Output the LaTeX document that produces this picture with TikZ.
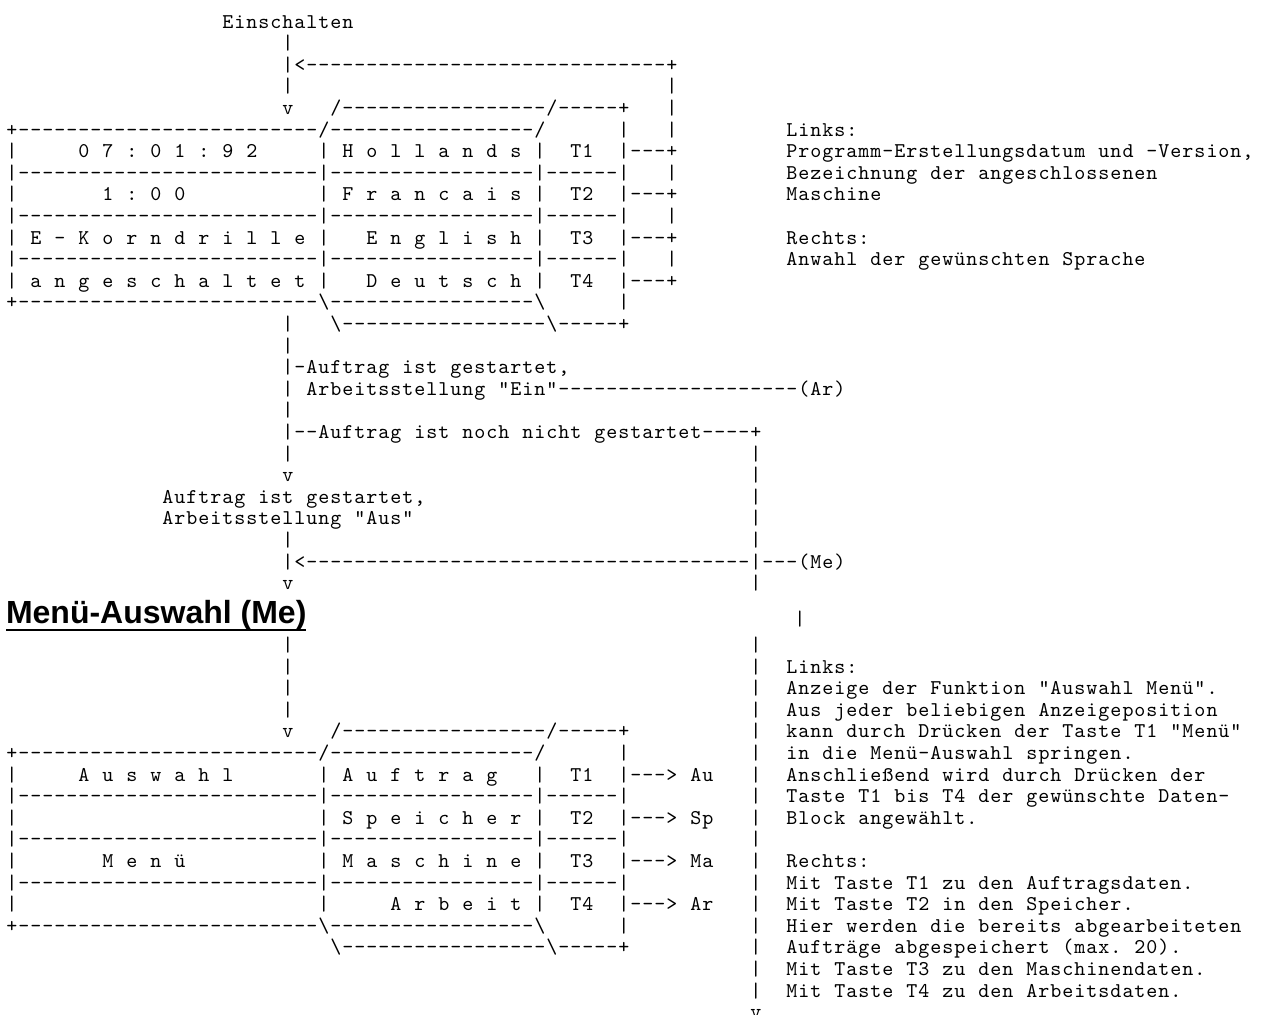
\documentclass[tikz,border=0pt]{standalone}
\usepackage{fontspec}
\newfontfamily\headfont{Liberation Sans}
\newdimen\cw \cw=6pt
\ExplSyntaxOn
\cs_new:Npn \dashes #1 { \prg_replicate:nn {#1} {-} }
\NewDocumentCommand \gridtext { m }
 {
  \exp_args:Ne \str_map_inline:nn {#1}
   {
    \hbox_to_wd:nn {\cw} { \hss \str_if_eq:nnTF {##1} {!} {\textbackslash} {##1} \hss }
   }
 }
\ExplSyntaxOff
\tikzset{gt/.style={anchor=base west,inner sep=0pt,outer sep=0pt,font=\fontsize{10.5pt}{12pt}\ttfamily}}
\newcommand\U[3]{\node[gt] (u-#2-#1) at ({3pt+6pt*#1},{-14pt-10.8pt*#2}) {\gridtext{#3}};}
\newcommand\Lw[3]{\node[gt] (l-#2-#1) at ({3pt+6pt*#1},{-325.7pt-10.8pt*#2}) {\gridtext{#3}};}
\begin{document}
\begin{tikzpicture}
\path[use as bounding box] (0,0) rectangle (631.5pt,-507pt);
% upper part
\U{18}{0}{Einschalten}
\U{23}{1}{|}
\U{23}{2}{|<\dashes{30}+}
\U{23}{3}{|} \U{55}{3}{|}
\U{23}{4}{v} \U{27}{4}{/\dashes{17}/\dashes{5}+} \U{55}{4}{|}
\U{0}{5}{+\dashes{25}/\dashes{17}/} \U{51}{5}{|} \U{55}{5}{|} \U{65}{5}{Links:}
\U{0}{6}{|} \U{6}{6}{0 7 : 0 1 : 9 2} \U{26}{6}{| H o l l a n d s |} \U{47}{6}{T1} \U{51}{6}{|---+} \U{65}{6}{Programm-Erstellungsdatum und -Version,}
\U{0}{7}{|\dashes{25}|\dashes{17}|\dashes{6}|} \U{55}{7}{|} \U{65}{7}{Bezeichnung der angeschlossenen}
\U{0}{8}{|} \U{8}{8}{1 : 0 0} \U{26}{8}{| F r a n c a i s |} \U{47}{8}{T2} \U{51}{8}{|---+} \U{65}{8}{Maschine}
\U{0}{9}{|\dashes{25}|\dashes{17}|\dashes{6}|} \U{55}{9}{|}
\U{0}{10}{| E - K o r n d r i l l e |} \U{30}{10}{E n g l i s h |} \U{47}{10}{T3} \U{51}{10}{|---+} \U{65}{10}{Rechts:}
\U{0}{11}{|\dashes{25}|\dashes{17}|\dashes{6}|} \U{55}{11}{|} \U{65}{11}{Anwahl der gewünschten Sprache}
\U{0}{12}{| a n g e s c h a l t e t |} \U{30}{12}{D e u t s c h |} \U{47}{12}{T4} \U{51}{12}{|---+}
\U{0}{13}{+\dashes{25}!\dashes{17}!} \U{51}{13}{|}
\U{23}{14}{|} \U{27}{14}{!\dashes{17}!\dashes{5}+}
\U{23}{15}{|}
\U{23}{16}{|-Auftrag ist gestartet,}
\U{23}{17}{| Arbeitsstellung "Ein"\dashes{20}(Ar)}
\U{23}{18}{|}
\U{23}{19}{|--Auftrag ist noch nicht gestartet----+}
\U{23}{20}{|} \U{62}{20}{|}
\U{23}{21}{v} \U{62}{21}{|}
\U{13}{22}{Auftrag ist gestartet,} \U{62}{22}{|}
\U{13}{23}{Arbeitsstellung "Aus"} \U{62}{23}{|}
\U{23}{24}{|} \U{62}{24}{|}
\U{23}{25}{|<\dashes{37}|---(Me)}
\U{23}{26}{v} \U{62}{26}{|}
% heading
\node[anchor=base west,inner sep=0pt,outer sep=0pt,font={\fontsize{16pt}{19pt}\headfont\bfseries}] (head) at (3pt,-311.5pt) {Menü-Auswahl (Me)};
\draw[line width=1.4pt] ([yshift=-3.5pt]head.base west) -- ([yshift=-3.5pt]head.base east);
\node[gt] (headbar) at (397pt,-312.5pt) {\gridtext{|}};
% lower part
\Lw{23}{0}{|} \Lw{62}{0}{|}
\Lw{23}{1}{|} \Lw{62}{1}{|} \Lw{65}{1}{Links:}
\Lw{23}{2}{|} \Lw{62}{2}{|} \Lw{65}{2}{Anzeige der Funktion "Auswahl Menü".}
\Lw{23}{3}{|} \Lw{62}{3}{|} \Lw{65}{3}{Aus jeder beliebigen Anzeigeposition}
\Lw{23}{4}{v} \Lw{27}{4}{/\dashes{17}/\dashes{5}+} \Lw{62}{4}{|} \Lw{65}{4}{kann durch Drücken der Taste T1 "Menü"}
\Lw{0}{5}{+\dashes{25}/\dashes{17}/} \Lw{51}{5}{|} \Lw{62}{5}{|} \Lw{65}{5}{in die Menü-Auswahl springen.}
\Lw{0}{6}{|} \Lw{6}{6}{A u s w a h l} \Lw{26}{6}{| A u f t r a g} \Lw{44}{6}{|} \Lw{47}{6}{T1} \Lw{51}{6}{|---> Au} \Lw{62}{6}{|} \Lw{65}{6}{Anschließend wird durch Drücken der}
\Lw{0}{7}{|\dashes{25}|\dashes{17}|\dashes{6}|} \Lw{62}{7}{|} \Lw{65}{7}{Taste T1 bis T4 der gewünschte Daten-}
\Lw{0}{8}{|} \Lw{26}{8}{| S p e i c h e r |} \Lw{47}{8}{T2} \Lw{51}{8}{|---> Sp} \Lw{62}{8}{|} \Lw{65}{8}{Block angewählt.}
\Lw{0}{9}{|\dashes{25}|\dashes{17}|\dashes{6}|} \Lw{62}{9}{|}
\Lw{0}{10}{|} \Lw{8}{10}{M e n ü} \Lw{26}{10}{| M a s c h i n e |} \Lw{47}{10}{T3} \Lw{51}{10}{|---> Ma} \Lw{62}{10}{|} \Lw{65}{10}{Rechts:}
\Lw{0}{11}{|\dashes{25}|\dashes{17}|\dashes{6}|} \Lw{62}{11}{|} \Lw{65}{11}{Mit Taste T1 zu den Auftragsdaten.}
\Lw{0}{12}{|} \Lw{26}{12}{|} \Lw{32}{12}{A r b e i t |} \Lw{47}{12}{T4} \Lw{51}{12}{|---> Ar} \Lw{62}{12}{|} \Lw{65}{12}{Mit Taste T2 in den Speicher.}
\Lw{0}{13}{+\dashes{25}!\dashes{17}!} \Lw{51}{13}{|} \Lw{62}{13}{|} \Lw{65}{13}{Hier werden die bereits abgearbeiteten}
\Lw{27}{14}{!\dashes{17}!\dashes{5}+} \Lw{62}{14}{|} \Lw{65}{14}{Aufträge abgespeichert (max. 20).}
\Lw{62}{15}{|} \Lw{65}{15}{Mit Taste T3 zu den Maschinendaten.}
\Lw{62}{16}{|} \Lw{65}{16}{Mit Taste T4 zu den Arbeitsdaten.}
\Lw{62}{17}{v}
\end{tikzpicture}
\end{document}
